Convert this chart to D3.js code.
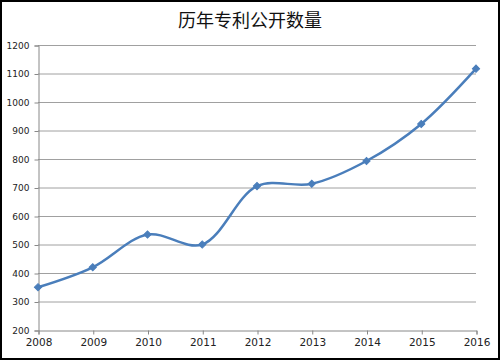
<!DOCTYPE html>
<html>
<head>
<meta charset="utf-8">
<script src="https://cdn.jsdelivr.net/npm/d3@7"></script>
<style>
  body{margin:0;background:#fff;}
  svg{display:block;}
</style>
</head>
<body>
<div class="container"></div>
<script>
// data
var years=["2008","2009","2010","2011","2012","2013","2014","2015","2016"];
var counts=[350,420,535,500,705,713,793,923,1117];
var yTicks=[200,300,400,500,600,700,800,900,1000,1100,1200];
var title="历年专利公开数量";

var w=500, h=360;
var plotL=38, plotR=476, plotT=45, plotB=330;

var svg=d3.select(".container")
  .append("svg")
  .attr("width",w)
  .attr("height",h);

// border
svg.append("rect")
  .attr("x",1).attr("y",1)
  .attr("width",w-2).attr("height",h-2)
  .attr("fill","#fff")
  .attr("stroke","#000")
  .attr("stroke-width",2);

// title
svg.append("text")
  .attr("x",250).attr("y",27)
  .attr("text-anchor","middle")
  .attr("font-family","'Noto Sans CJK SC', sans-serif")
  .attr("font-size",18)
  .attr("fill","#111")
  .text(title);

var x=d3.scalePoint().domain(years).range([plotL,plotR]);
var y=d3.scaleLinear().domain([200,1200]).range([plotB,plotT]);

// grid lines
svg.append("g").selectAll("line")
  .data(yTicks.slice(1))
  .enter().append("line")
  .attr("x1",plotL).attr("x2",plotR)
  .attr("y1",function(d){return y(d)+0.5;})
  .attr("y2",function(d){return y(d)+0.5;})
  .attr("stroke","#a0a0a0")
  .attr("stroke-width",1);

// y axis
var yAxis=d3.axisLeft(y).tickValues(yTicks).tickFormat(d3.format("d")).tickSize(4).tickPadding(5);
var gy=svg.append("g")
  .attr("transform","translate("+(plotL+0.5)+",0.5)")
  .call(yAxis);
gy.selectAll("text")
  .attr("font-family","'DejaVu Sans', sans-serif")
  .attr("font-size",9)
  .attr("fill","#222");

// x axis
var xAxis=d3.axisBottom(x).tickSize(4).tickPadding(4);
var gx=svg.append("g")
  .attr("transform","translate(0.5,"+(plotB+0.5)+")")
  .call(xAxis);
gx.selectAll("text")
  .attr("font-family","'DejaVu Sans', sans-serif")
  .attr("font-size",10.5)
  .attr("fill","#222");

svg.selectAll(".domain,.tick line").attr("stroke","#888");

// line
var pts=years.map(function(d,i){return {year:d,val:counts[i]};});
var line=d3.line()
  .x(function(d){return x(d.year);})
  .y(function(d){return y(d.val);})
  .curve(d3.curveCatmullRom.alpha(0.5));

svg.append("path")
  .datum(pts)
  .attr("d",line)
  .attr("fill","none")
  .attr("stroke","#4a7ebb")
  .attr("stroke-width",2.5);

// markers (square turned 45deg)
svg.append("g").selectAll("path")
  .data(pts)
  .enter().append("path")
  .attr("d",d3.symbol().type(d3.symbolSquare).size(26))
  .attr("transform",function(d){return "translate("+x(d.year)+","+y(d.val)+") rotate(45)";})
  .attr("fill","#4a7ebb")
  .attr("stroke","#4a7ebb");
</script>
</body>
</html>
